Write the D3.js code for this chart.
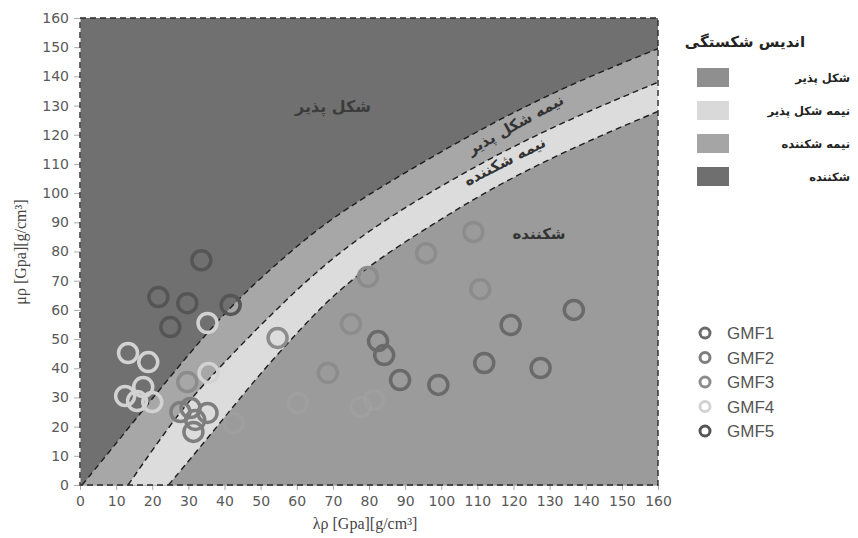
<!DOCTYPE html>
<html lang="fa">
<head>
<meta charset="utf-8">
<title>D3: Brittleness index chart</title>
<script src="https://d3js.org/d3.v7.min.js"></script>
<style>
  body { margin: 0; background: #fff; }
  svg text { font-family: "DejaVu Sans", sans-serif; }
</style>
</head>
<body>
<svg id="chart" width="858" height="538"></svg>
<script>
// boundary curves (lambda-rho, mu-rho)
var curveDuctile = [[0.6,0],[11,15.8],[26.4,39.4],[41.7,61.6],[55.6,77.1],[68.6,90.8],[89.7,107],[113.9,124],[136.1,137.5],[160,149.5]];
var curveMid = [[13.3,0],[27.2,24.7],[36.1,37],[50,55],[69.4,78.1],[89.7,95.2],[113.9,112.4],[136.1,125.7],[160,138]];
var curveBrittle = [[24.5,0],[36,17],[49,37],[60,52],[69.4,64.4],[82.5,77.5],[99.2,90.5],[113.9,101.7],[136.1,115.5],[160,128]];

// samples
var gmf1 = [[136.7,60],[119.2,54.8],[82.5,49.3],[84.2,44.5],[111.9,41.8],[127.5,40.1],[88.6,36],[99.2,34.3]];
var gmf2 = [[27.8,25],[30.6,26.4],[31.9,22.3],[35.3,24.7],[31.4,18.2]];
var gmf3 = [[54.7,50.4],[29.7,35.3],[108.9,86.7],[95.8,79.4],[79.7,71.3],[110.8,67.1],[75,55.2],[68.6,38.4]];
var gmf4 = [[13.3,45.2],[18.9,42.1],[12.5,30.5],[17.5,33.6],[15.8,28.8],[20,28.4],[35.3,55.5],[35.6,38.4]];
var gmf4Faded = [[60.3,28.1],[77.8,26.7],[81.4,29.1],[42.5,21.2]];
var gmf5 = [[33.6,77],[21.7,64.4],[29.7,62.3],[41.7,61.7],[25,54.1]];

var seriesNames = ["GMF1", "GMF2", "GMF3", "GMF4", "GMF5"];
var zoneNames = ["شکل پذیر", "نیمه شکل پذیر", "نیمه شکننده", "شکننده"];
var ticks = d3.range(0, 161, 10);

var svg = d3.select("#chart");
var x = d3.scaleLinear().domain([0, 160]).range([80, 658]);
var y = d3.scaleLinear().domain([0, 160]).range([485, 18]);

svg.append("clipPath").attr("id", "plotClip")
    .append("rect").attr("x", 80).attr("y", 18).attr("width", 578).attr("height", 467);

var plot = svg.append("g").attr("clip-path", "url(#plotClip)");

// background zones
plot.append("rect").attr("x", 80).attr("y", 18).attr("width", 578).attr("height", 467).attr("fill", "#707070");

var area = d3.area()
    .x(function(d) { return x(d[0]); })
    .y0(y(0))
    .y1(function(d) { return y(d[1]); })
    .curve(d3.curveBasis);
var line = d3.line()
    .x(function(d) { return x(d[0]); })
    .y(function(d) { return y(d[1]); })
    .curve(d3.curveBasis);

plot.append("path").attr("d", area(curveDuctile)).attr("fill", "#a7a7a7");
plot.append("path").attr("d", area(curveMid)).attr("fill", "#dcdcdc");
plot.append("path").attr("d", area(curveBrittle)).attr("fill", "#9b9b9b");

[curveDuctile, curveMid, curveBrittle].forEach(function(c) {
    plot.append("path").attr("d", line(c))
        .attr("fill", "none").attr("stroke", "#1e1e1e")
        .attr("stroke-width", 1.4).attr("stroke-dasharray", "6,4");
});

// zone labels inside the plot
plot.append("text").attr("x", 333).attr("y", 112).attr("text-anchor", "middle")
    .attr("font-size", 16).attr("font-weight", "bold").attr("fill", "#3c3c3c").text(zoneNames[0]);
plot.append("text").attr("text-anchor", "middle").attr("font-size", 15).attr("font-weight", "bold")
    .attr("fill", "#333").attr("transform", "translate(518,129) rotate(-29)").text(zoneNames[1]);
plot.append("text").attr("text-anchor", "middle").attr("font-size", 15).attr("font-weight", "bold")
    .attr("fill", "#333").attr("transform", "translate(507,166) rotate(-27)").text(zoneNames[2]);
plot.append("text").attr("x", 539).attr("y", 239).attr("text-anchor", "middle")
    .attr("font-size", 15).attr("font-weight", "bold").attr("fill", "#333").text(zoneNames[3]);

// sample circles
var seriesColors = ["#6a6a6a", "#7e7e7e", "#8c8c8c", "#d2d2d2", "#555555"];
function drawPts(pts, color, opacity) {
    plot.append("g").selectAll("circle").data(pts).enter().append("circle")
        .attr("cx", function(d) { return x(d[0]); })
        .attr("cy", function(d) { return y(d[1]); })
        .attr("r", 9.5)
        .attr("fill", "none")
        .attr("stroke", color)
        .attr("stroke-width", 3.5)
        .attr("opacity", opacity);
}
drawPts(gmf4Faded, "#b0b0b0", 0.2);
drawPts(gmf3, seriesColors[2], 1);
drawPts(gmf1, seriesColors[0], 1);
drawPts(gmf2, seriesColors[1], 1);
drawPts(gmf4, seriesColors[3], 1);
drawPts(gmf5, seriesColors[4], 1);

// axes
var xAxis = svg.append("g").attr("transform", "translate(0,485)")
    .call(d3.axisBottom(x).tickValues(ticks).tickSize(5).tickPadding(6));
var yAxis = svg.append("g").attr("transform", "translate(80,0)")
    .call(d3.axisLeft(y).tickValues(ticks).tickSize(6).tickPadding(5));
[xAxis, yAxis].forEach(function(a) {
    a.select(".domain").attr("stroke", "#bbb");
    a.selectAll(".tick line").attr("stroke", "#aaa");
    a.selectAll(".tick text").attr("font-family", "'Open Sans', sans-serif")
        .attr("font-size", 14).attr("fill", "#595959");
});

// dashed plot frame
svg.append("rect").attr("x", 80).attr("y", 18).attr("width", 578).attr("height", 467)
    .attr("fill", "none").attr("stroke", "#2a2a2a").attr("stroke-width", 1.4).attr("stroke-dasharray", "6,4");

// axis titles
svg.append("text").attr("x", 365).attr("y", 529).attr("text-anchor", "middle")
    .style("font-family", "'Liberation Serif', serif").attr("font-size", 16).attr("fill", "#444")
    .text("λρ [Gpa][g/cm³]");
svg.append("text").attr("transform", "translate(26,252) rotate(-90)").attr("text-anchor", "middle")
    .style("font-family", "'Liberation Serif', serif").attr("font-size", 16).attr("fill", "#444")
    .text("μρ [Gpa][g/cm³]");

// zone legend
var zoneColors = ["#8f8f8f", "#d9d9d9", "#a5a5a5", "#6f6f6f"];
svg.append("text").attr("x", 745).attr("y", 47).attr("text-anchor", "middle")
    .attr("font-size", 15).attr("font-weight", "bold").attr("fill", "#222").text("اندیس شکستگی");
zoneNames.forEach(function(name, i) {
    var yy = 68 + i * 33;
    svg.append("rect").attr("x", 697).attr("y", yy).attr("width", 32).attr("height", 19).attr("fill", zoneColors[i]);
    svg.append("text").attr("x", 850).attr("y", yy + 14).attr("text-anchor", "end")
        .attr("font-size", 11.5).attr("font-weight", "bold").attr("fill", "#222").text(name);
});

// series legend
seriesNames.forEach(function(name, i) {
    var yy = 333 + i * 24.5;
    svg.append("circle").attr("cx", 705).attr("cy", yy).attr("r", 5)
        .attr("fill", "none").attr("stroke", seriesColors[i]).attr("stroke-width", 3);
    svg.append("text").attr("x", 727).attr("y", yy + 6)
        .style("font-family", "'Liberation Sans', Arial, sans-serif").attr("font-size", 17)
        .attr("fill", "#555").text(name);
});
</script>
</body>
</html>
